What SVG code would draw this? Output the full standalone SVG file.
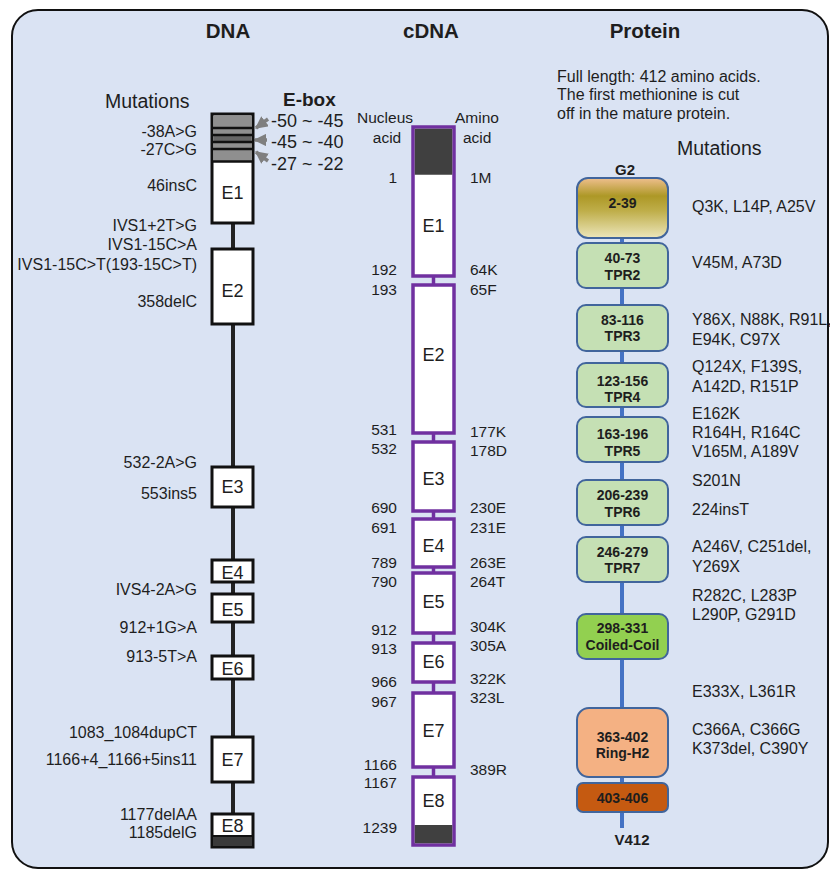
<svg xmlns="http://www.w3.org/2000/svg" width="830" height="886" viewBox="0 0 830 886">
<defs>
<style>
text{font-family:"Liberation Sans",Arial,sans-serif;fill:#1e1e1e}
.title{font-size:20.5px;font-weight:bold;text-anchor:middle}
.hdr{font-size:19.5px}
.eb{font-size:18px}
.dm{font-size:16px;text-anchor:end}
.ex{font-size:18px;text-anchor:middle}
.cn{font-size:15.5px;text-anchor:end}
.ca{font-size:15.5px}
.pm{font-size:16px}
.pd{font-size:14px;font-weight:bold;text-anchor:middle}
.dbox{fill:#fff;stroke:#111;stroke-width:3}
.cbox{fill:#fff;stroke:#7030a0;stroke-width:3.5}
.pbox{stroke:#41659c;stroke-width:2}
.stripe{stroke:#111;stroke-width:2.5}
</style>
<linearGradient id="g2grad" x1="0" y1="0" x2="0" y2="1">
<stop offset="0" stop-color="#efbf8e"/>
<stop offset="0.3" stop-color="#ad9826"/>
<stop offset="0.55" stop-color="#bfae4a"/>
<stop offset="1" stop-color="#ece6bb"/>
</linearGradient>
<marker id="garrow" viewBox="0 0 10 10" refX="9" refY="5" markerWidth="3.6" markerHeight="3.6" orient="auto">
<path d="M0,0 L10,5 L0,10 z" fill="#7f7f7f"/>
</marker>
</defs>

<rect x="12" y="10" width="816" height="858" rx="26" fill="#dae3f3" stroke="#111" stroke-width="2"/>

<text class="title" x="228" y="38">DNA</text>
<text class="title" x="431" y="38">cDNA</text>
<text class="title" x="645" y="38">Protein</text>

<!-- connectors -->
<g id="connectors">
<line x1="233" y1="223" x2="233" y2="814" stroke="#222" stroke-width="4"/>
<g stroke="#7030a0" stroke-width="3.5">
<line x1="433.5" y1="276" x2="433.5" y2="285"/>
<line x1="433.5" y1="433" x2="433.5" y2="442"/>
<line x1="433.5" y1="511" x2="433.5" y2="519"/>
<line x1="433.5" y1="567" x2="433.5" y2="573"/>
<line x1="433.5" y1="633" x2="433.5" y2="643"/>
<line x1="433.5" y1="682" x2="433.5" y2="693"/>
<line x1="433.5" y1="767" x2="433.5" y2="777"/>
</g>
<line x1="622" y1="238" x2="622" y2="828" stroke="#4472c4" stroke-width="4"/>
<g stroke="#7f7f7f" stroke-width="3.5" marker-end="url(#garrow)">
<line x1="268" y1="119" x2="256" y2="128"/>
<line x1="267" y1="140" x2="255" y2="140"/>
<line x1="268" y1="161" x2="256" y2="152"/>
</g>
</g>

<!-- DNA -->
<g id="dna-labels">
<text class="hdr" x="105" y="108">Mutations</text>
<text x="283" y="106" style="font-size:19px;font-weight:bold">E-box</text>
<text class="eb" x="271" y="127">-50 ~ -45</text>
<text class="eb" x="271" y="148">-45 ~ -40</text>
<text class="eb" x="271" y="170">-27 ~ -22</text>
<text class="dm" x="197" y="137">-38A&gt;G</text>
<text class="dm" x="197" y="155">-27C&gt;G</text>
<text class="dm" x="197" y="191">46insC</text>
<text class="dm" x="197" y="231">IVS1+2T&gt;G</text>
<text class="dm" x="197" y="250">IVS1-15C&gt;A</text>
<text class="dm" x="197" y="270">IVS1-15C&gt;T(193-15C&gt;T)</text>
<text class="dm" x="197" y="307">358delC</text>
<text class="dm" x="197" y="468">532-2A&gt;G</text>
<text class="dm" x="197" y="499">553ins5</text>
<text class="dm" x="197" y="595">IVS4-2A&gt;G</text>
<text class="dm" x="197" y="633">912+1G&gt;A</text>
<text class="dm" x="197" y="662">913-5T&gt;A</text>
<text class="dm" x="197" y="738">1083_1084dupCT</text>
<text class="dm" x="197" y="765">1166+4_1166+5ins11</text>
<text class="dm" x="197" y="820">1177delAA</text>
<text class="dm" x="197" y="838">1185delG</text>
</g>
<g id="dna-e1">
<rect class="dbox" x="212" y="114" width="41" height="109"/>
<rect x="213.5" y="115.5" width="38" height="46" fill="#8f8f8f"/>
<rect x="213.5" y="136" width="38" height="5" fill="#666"/>
<line class="stripe" x1="212" y1="128" x2="253" y2="128"/>
<line class="stripe" x1="212" y1="135" x2="253" y2="135"/>
<line class="stripe" x1="212" y1="142" x2="253" y2="142"/>
<line class="stripe" x1="212" y1="149" x2="253" y2="149"/>
<line class="stripe" x1="212" y1="161.5" x2="253" y2="161.5"/>
<text class="ex" x="232.5" y="199">E1</text>
</g>
<g id="dna-e2"><rect class="dbox" x="212" y="249" width="41" height="75"/><text class="ex" x="232.5" y="297">E2</text></g>
<g id="dna-e3"><rect class="dbox" x="212" y="467" width="41" height="40"/><text class="ex" x="232.5" y="493">E3</text></g>
<g id="dna-e4"><rect class="dbox" x="212" y="560" width="41" height="22"/><text class="ex" x="232.5" y="579">E4</text></g>
<g id="dna-e5"><rect class="dbox" x="212" y="594" width="41" height="28"/><text class="ex" x="232.5" y="616">E5</text></g>
<g id="dna-e6"><rect class="dbox" x="212" y="656" width="41" height="23"/><text class="ex" x="232.5" y="675">E6</text></g>
<g id="dna-e7"><rect class="dbox" x="212" y="737" width="41" height="45"/><text class="ex" x="232.5" y="766">E7</text></g>
<g id="dna-e8"><rect class="dbox" x="212" y="814" width="41" height="33"/><rect x="212" y="836" width="41" height="11" fill="#3a3a3a" stroke="#111" stroke-width="2"/><text class="ex" x="232.5" y="832">E8</text></g>

<!-- cDNA -->
<g id="cdna-labels">
<text class="ca" x="357" y="123">Nucleus</text>
<text class="ca" x="387" y="143" text-anchor="middle">acid</text>
<text class="ca" x="455" y="123">Amino</text>
<text class="ca" x="463" y="143">acid</text>
<text class="cn" x="397" y="183">1</text><text class="ca" x="470" y="183">1M</text>
<text class="cn" x="397" y="275">192</text><text class="ca" x="470" y="275">64K</text>
<text class="cn" x="397" y="295">193</text><text class="ca" x="470" y="295">65F</text>
<text class="cn" x="397" y="435">531</text><text class="ca" x="470" y="437">177K</text>
<text class="cn" x="397" y="454">532</text><text class="ca" x="470" y="456">178D</text>
<text class="cn" x="397" y="513">690</text><text class="ca" x="470" y="513">230E</text>
<text class="cn" x="397" y="533">691</text><text class="ca" x="470" y="533">231E</text>
<text class="cn" x="397" y="568">789</text><text class="ca" x="470" y="568">263E</text>
<text class="cn" x="397" y="587">790</text><text class="ca" x="470" y="587">264T</text>
<text class="cn" x="397" y="635">912</text><text class="ca" x="470" y="632">304K</text>
<text class="cn" x="397" y="654">913</text><text class="ca" x="470" y="651">305A</text>
<text class="cn" x="397" y="687">966</text><text class="ca" x="470" y="684">322K</text>
<text class="cn" x="397" y="707">967</text><text class="ca" x="470" y="703">323L</text>
<text class="cn" x="397" y="770">1166</text><text class="ca" x="470" y="775">389R</text>
<text class="cn" x="397" y="788">1167</text>
<text class="cn" x="397" y="833">1239</text>
</g>
<g id="cdna-e1"><rect class="cbox" x="413" y="127" width="41" height="149"/><rect x="414.75" y="128.75" width="37.5" height="46" fill="#404040"/><text class="ex" x="433.5" y="232">E1</text></g>
<g id="cdna-e2"><rect class="cbox" x="413" y="285" width="41" height="148"/><text class="ex" x="433.5" y="361">E2</text></g>
<g id="cdna-e3"><rect class="cbox" x="413" y="442" width="41" height="69"/><text class="ex" x="433.5" y="485">E3</text></g>
<g id="cdna-e4"><rect class="cbox" x="413" y="519" width="41" height="48"/><text class="ex" x="433.5" y="552">E4</text></g>
<g id="cdna-e5"><rect class="cbox" x="413" y="573" width="41" height="60"/><text class="ex" x="433.5" y="608">E5</text></g>
<g id="cdna-e6"><rect class="cbox" x="413" y="643" width="41" height="39"/><text class="ex" x="433.5" y="668">E6</text></g>
<g id="cdna-e7"><rect class="cbox" x="413" y="693" width="41" height="74"/><text class="ex" x="433.5" y="737">E7</text></g>
<g id="cdna-e8"><rect class="cbox" x="413" y="777" width="41" height="68"/><rect x="414.75" y="825" width="37.5" height="18.25" fill="#404040"/><text class="ex" x="433.5" y="807">E8</text></g>

<!-- Protein -->
<g id="protein-labels">
<text class="pm" x="557" y="82">Full length: 412 amino acids.</text>
<text class="pm" x="557" y="100">The first methionine is cut</text>
<text class="pm" x="557" y="119">off in the mature protein.</text>
<text class="hdr" x="677" y="155">Mutations</text>
<text x="625" y="175" style="font-size:15px;font-weight:bold;text-anchor:middle">G2</text>
<text x="632" y="845" style="font-size:15px;font-weight:bold;text-anchor:middle">V412</text>
<text class="pm" x="692" y="212">Q3K, L14P, A25V</text>
<text class="pm" x="692" y="268">V45M, A73D</text>
<text class="pm" x="692" y="325">Y86X, N88K, R91L,</text>
<text class="pm" x="692" y="345">E94K, C97X</text>
<text class="pm" x="692" y="372">Q124X, F139S,</text>
<text class="pm" x="692" y="392">A142D, R151P</text>
<text class="pm" x="692" y="419">E162K</text>
<text class="pm" x="692" y="438">R164H, R164C</text>
<text class="pm" x="692" y="457">V165M, A189V</text>
<text class="pm" x="692" y="486">S201N</text>
<text class="pm" x="692" y="515">224insT</text>
<text class="pm" x="692" y="552">A246V, C251del,</text>
<text class="pm" x="692" y="572">Y269X</text>
<text class="pm" x="692" y="601">R282C, L283P</text>
<text class="pm" x="692" y="620">L290P, G291D</text>
<text class="pm" x="692" y="697">E333X, L361R</text>
<text class="pm" x="692" y="735">C366A, C366G</text>
<text class="pm" x="692" y="754">K373del, C390Y</text>
</g>
<g id="p-g2"><rect class="pbox" x="577" y="178" width="91" height="60" rx="11" fill="url(#g2grad)"/><text class="pd" x="622.5" y="208">2-39</text></g>
<g id="p-tpr2"><rect class="pbox" x="577" y="243" width="91" height="45" rx="9" fill="#c5e0b4"/><text class="pd" x="622.5" y="263">40-73</text><text class="pd" x="622.5" y="280">TPR2</text></g>
<g id="p-tpr3"><rect class="pbox" x="577" y="305" width="91" height="46" rx="9" fill="#c5e0b4"/><text class="pd" x="622.5" y="325">83-116</text><text class="pd" x="622.5" y="341">TPR3</text></g>
<g id="p-tpr4"><rect class="pbox" x="577" y="363" width="91" height="44" rx="9" fill="#c5e0b4"/><text class="pd" x="622.5" y="386">123-156</text><text class="pd" x="622.5" y="402">TPR4</text></g>
<g id="p-tpr5"><rect class="pbox" x="577" y="417" width="91" height="45" rx="9" fill="#c5e0b4"/><text class="pd" x="622.5" y="439">163-196</text><text class="pd" x="622.5" y="456">TPR5</text></g>
<g id="p-tpr6"><rect class="pbox" x="577" y="480" width="91" height="45" rx="9" fill="#c5e0b4"/><text class="pd" x="622.5" y="500">206-239</text><text class="pd" x="622.5" y="517">TPR6</text></g>
<g id="p-tpr7"><rect class="pbox" x="577" y="537" width="91" height="45" rx="9" fill="#c5e0b4"/><text class="pd" x="622.5" y="557">246-279</text><text class="pd" x="622.5" y="573">TPR7</text></g>
<g id="p-coil"><rect class="pbox" x="577" y="614" width="91" height="45" rx="9" fill="#92d050"/><text class="pd" x="622.5" y="633">298-331</text><text class="pd" x="622.5" y="650">Coiled-Coil</text></g>
<g id="p-ring"><rect class="pbox" x="577" y="708" width="91" height="69" rx="12" fill="#f4b183"/><text class="pd" x="622.5" y="742">363-402</text><text class="pd" x="622.5" y="758">Ring-H2</text></g>
<g id="p-403"><rect class="pbox" x="577" y="783" width="91" height="29" rx="6" fill="#c55a11"/><text class="pd" x="622.5" y="803">403-406</text></g>
</svg>
